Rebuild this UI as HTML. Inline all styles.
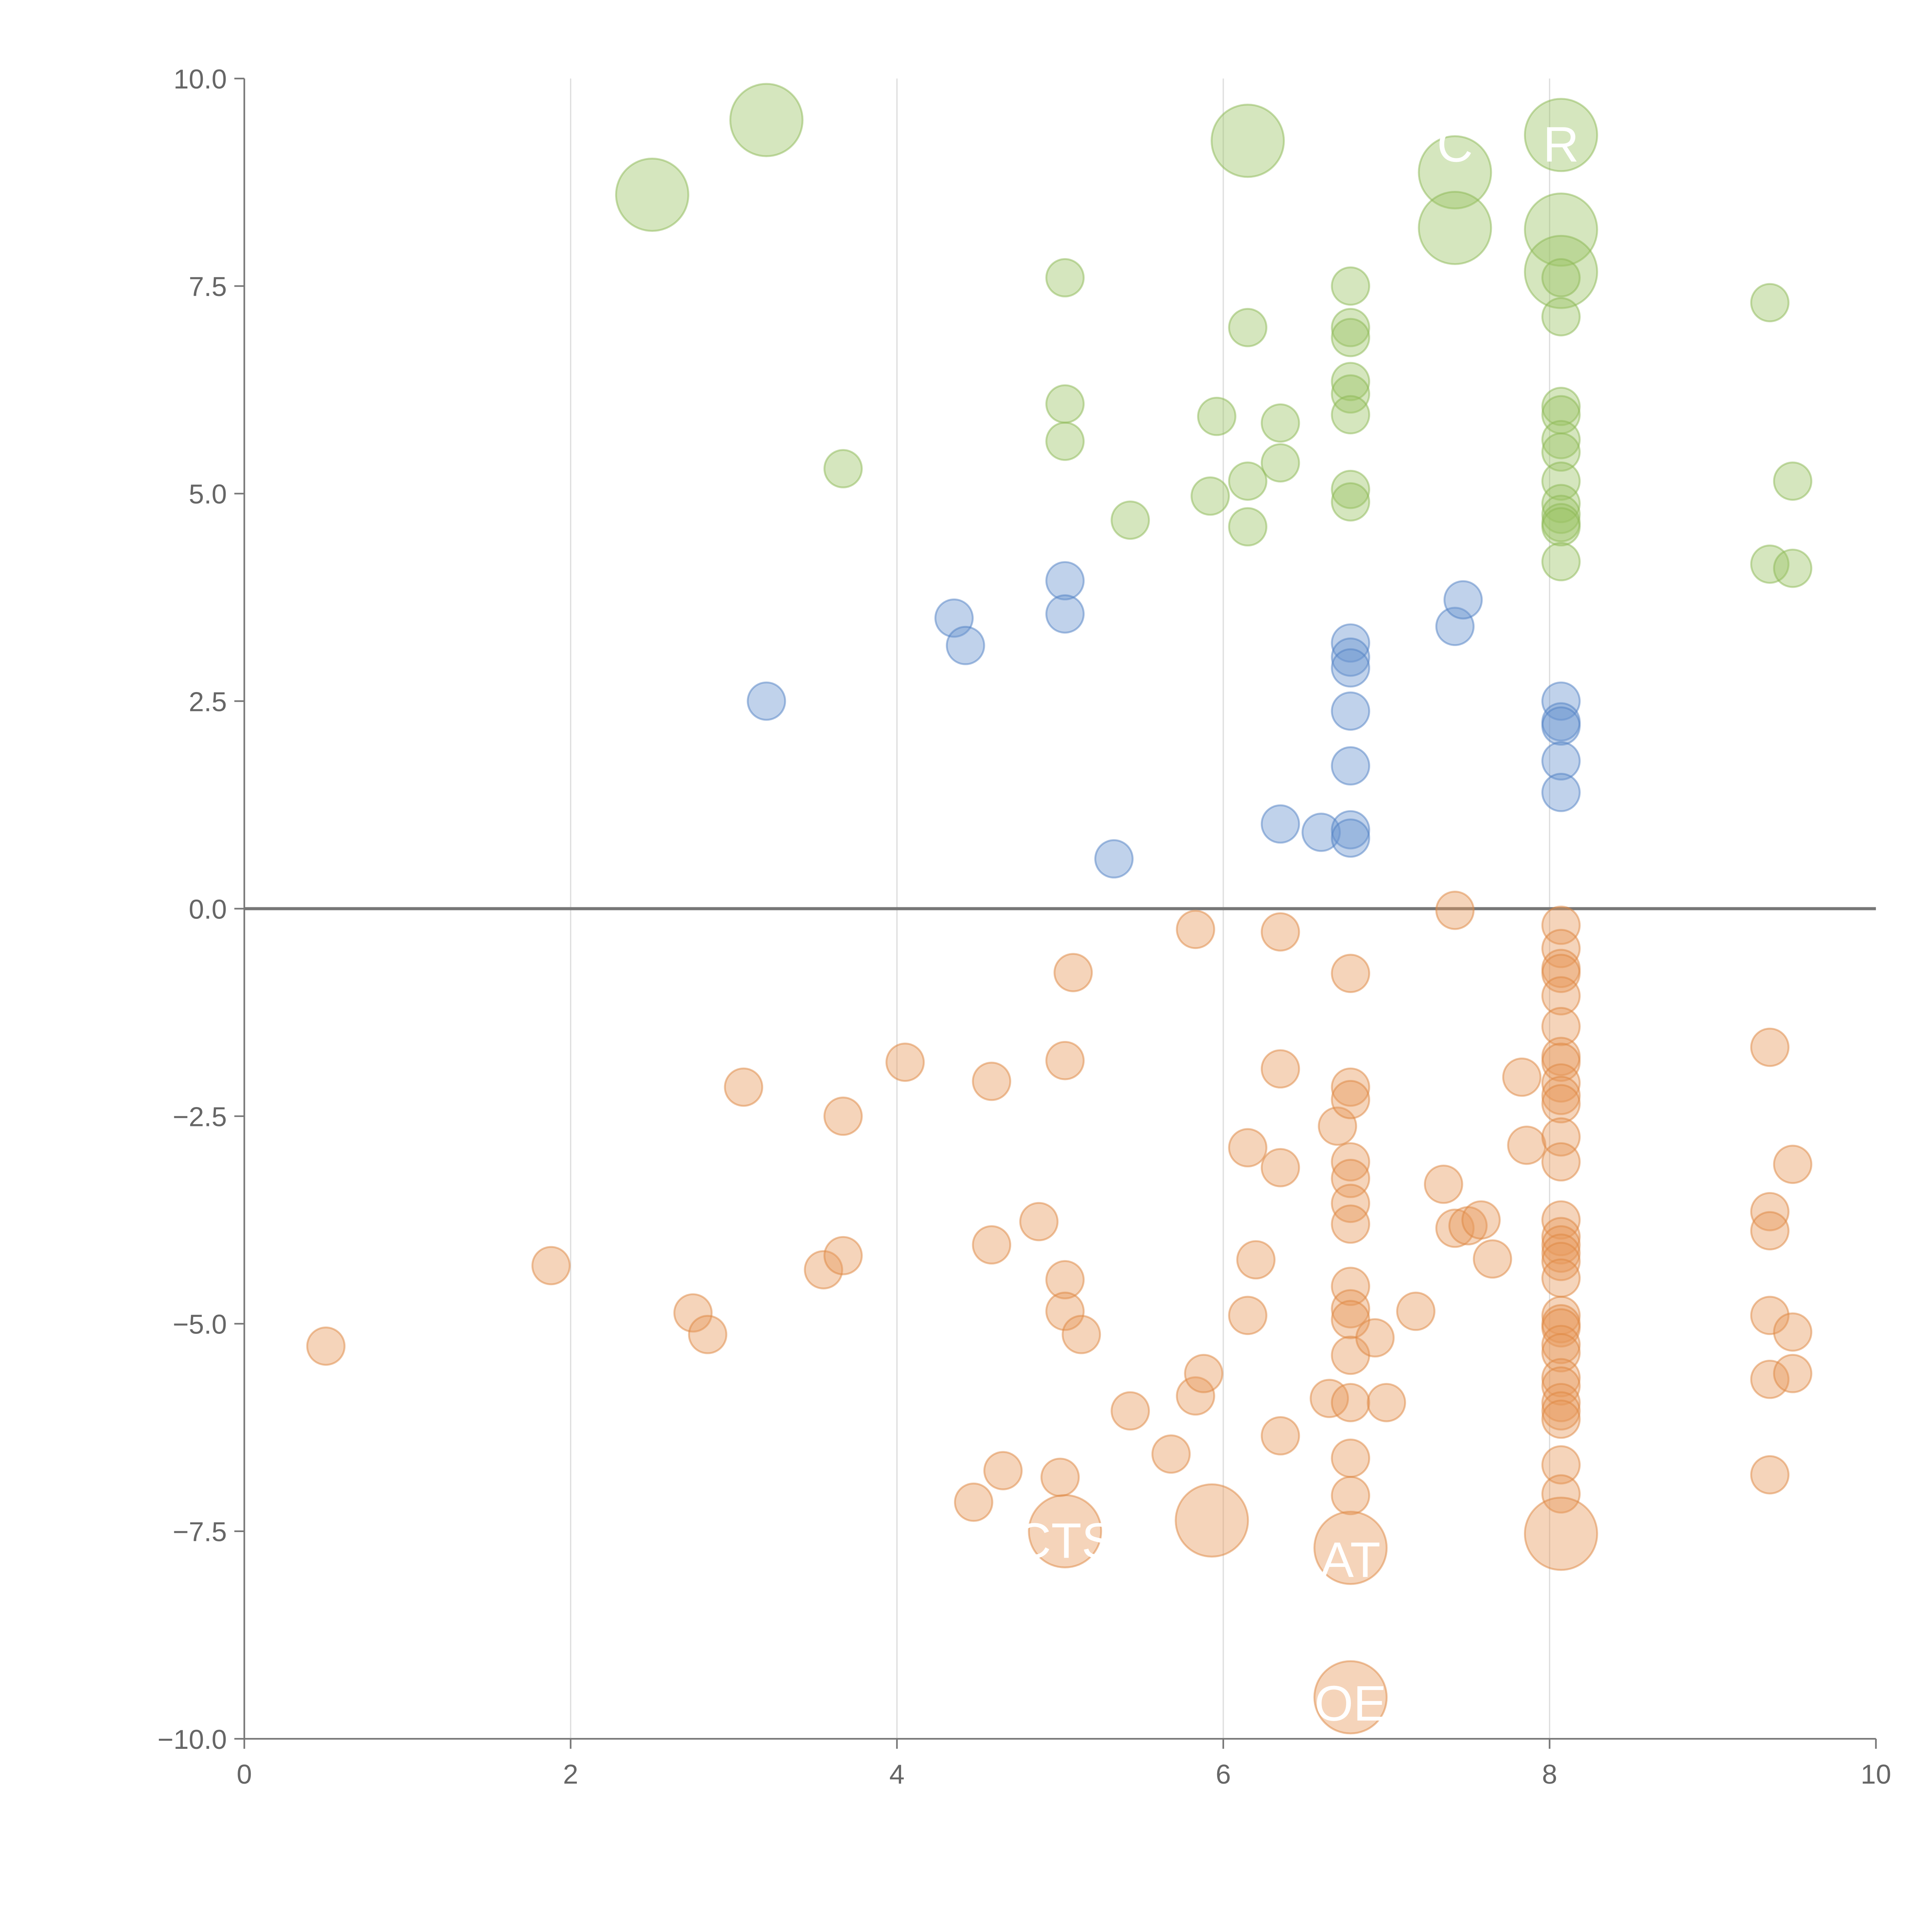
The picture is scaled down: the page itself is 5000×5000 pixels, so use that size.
<!DOCTYPE html>
<html><head><meta charset="utf-8"><style>
html,body{margin:0;padding:0;background:#fff;}
svg{display:block;}
text{font-family:"Liberation Sans",sans-serif;}
</style></head><body>
<svg id="chart" width="5000" height="5000" viewBox="0 0 1550 1550" xmlns="http://www.w3.org/2000/svg">
<g id="grid"></g>
<g id="axes"></g>
<g id="marks"></g>
<g id="labels"></g>
</svg>
<script>
const xTicks=[0,2,4,6,8,10];
const yTicks=[-10,-7.5,-5,-2.5,0,2.5,5,7.5,10];
const greenLarge=[[2.5,8.6],[3.2,9.5],[6.15,9.25],[7.42,8.87],[7.42,8.2],[8.07,9.32],[8.07,8.18],[8.07,7.67]];
const greenSmall=[[5.03,7.6],[6.15,7.0],[6.78,7.5],[6.78,7.0],[6.78,6.88],[9.35,7.3],[8.07,7.6],[8.07,7.13],[5.03,6.08],[5.03,5.63],[5.96,5.93],[6.35,5.85],[6.35,5.37],[6.78,6.35],[6.78,6.2],[6.78,5.95],[3.67,5.3],[6.15,5.15],[5.92,4.97],[5.43,4.68],[6.15,4.6],[6.78,5.05],[6.78,4.9],[8.07,6.05],[8.07,5.95],[8.07,5.65],[8.07,5.5],[8.07,5.15],[8.07,4.88],[8.07,4.75],[8.07,4.65],[8.07,4.6],[8.07,4.18],[9.49,5.15],[9.35,4.15],[9.49,4.1]];
const blueSmall=[[3.2,2.5],[4.35,3.5],[4.42,3.17],[5.03,3.95],[5.03,3.55],[5.33,0.6],[6.35,1.02],[6.6,0.92],[6.78,0.95],[6.78,0.85],[6.78,3.2],[6.78,3.03],[6.78,2.9],[6.78,2.38],[6.78,1.72],[7.42,3.4],[7.47,3.72],[8.07,2.5],[8.07,2.25],[8.07,2.2],[8.07,1.78],[8.07,1.4]];
const orangeSmall=[[0.5,-5.27],[1.88,-4.3],[2.75,-4.87],[2.84,-5.13],[3.06,-2.15],[3.55,-4.35],[3.67,-4.18],[3.67,-2.5],[4.05,-1.85],[4.58,-2.08],[4.58,-4.05],[4.47,-7.15],[4.65,-6.77],[4.87,-3.77],[5.03,-1.83],[5.08,-0.77],[5.03,-4.47],[5.03,-4.85],[5.13,-5.13],[5.0,-6.85],[5.43,-6.05],[5.68,-6.57],[5.83,-5.87],[5.88,-5.6],[5.83,-0.25],[6.35,-0.28],[6.35,-1.93],[6.15,-2.88],[6.35,-3.12],[6.2,-4.23],[6.15,-4.9],[6.35,-6.35],[6.7,-2.62],[6.78,-0.78],[6.78,-2.15],[6.78,-2.3],[6.78,-3.05],[6.78,-3.25],[6.78,-3.55],[6.78,-3.8],[6.78,-4.55],[6.78,-4.82],[6.78,-4.95],[6.78,-5.38],[6.93,-5.17],[6.65,-5.9],[6.78,-5.95],[7.0,-5.95],[6.78,-6.62],[6.78,-7.07],[7.18,-4.85],[7.35,-3.32],[7.42,-3.85],[7.5,-3.82],[7.58,-3.75],[7.65,-4.22],[7.42,-0.02],[7.83,-2.03],[7.86,-2.85],[8.07,-0.2],[8.07,-0.48],[8.07,-0.72],[8.07,-0.78],[8.07,-1.05],[8.07,-1.42],[8.07,-1.78],[8.07,-1.85],[8.07,-2.1],[8.07,-2.25],[8.07,-2.35],[8.07,-2.75],[8.07,-3.05],[8.07,-3.75],[8.07,-3.95],[8.07,-4.05],[8.07,-4.15],[8.07,-4.25],[8.07,-4.45],[8.07,-4.9],[8.07,-5.0],[8.07,-5.05],[8.07,-5.25],[8.07,-5.35],[8.07,-5.65],[8.07,-5.75],[8.07,-5.95],[8.07,-6.05],[8.07,-6.15],[8.07,-6.7],[8.07,-7.05],[9.35,-1.67],[9.35,-3.65],[9.35,-3.88],[9.35,-4.9],[9.35,-5.67],[9.35,-6.82],[9.49,-3.08],[9.49,-5.1],[9.49,-5.6]];
const orangeLarge=[[5.03,-7.5],[5.93,-7.37],[6.78,-7.7],[8.07,-7.53],[6.78,-9.5]];
const textLabels=[["C",7.42,9.0],["R",8.07,9.0],["CTS",5.03,-7.82],["AT",6.78,-8.05],["OE",6.78,-9.78]];

const NS="http://www.w3.org/2000/svg";
const X0=196,X1=1505,Y0=1395,Y1=63;
function sx(v){return X0+(v-0)/10*(X1-X0);}
function sy(v){return Y0-(v+10)/20*(Y0-Y1);}
function mk(tag,attrs,parent){const e=document.createElementNS(NS,tag);for(const k in attrs)e.setAttribute(k,attrs[k]);parent.appendChild(e);return e;}
const grid=document.getElementById('grid'),axes=document.getElementById('axes'),marks=document.getElementById('marks'),labels=document.getElementById('labels');
xTicks.forEach(t=>{
  if(t>0&&t<10){const g=mk('line',{x1:sx(t),x2:sx(t),y1:Y1,y2:Y0,stroke:'#dddddd','stroke-width':1},grid);
  
  }
  const tk=mk('line',{x1:sx(t),x2:sx(t),y1:Y0,y2:Y0+8,stroke:'#777','stroke-width':1.3},axes);
  
  
  const tx=mk('text',{x:sx(t),y:Y0+36,'text-anchor':'middle','font-size':22,fill:'#666'},axes);
  tx.textContent=String(t);
  
  
});
yTicks.forEach(t=>{
  const tk=mk('line',{x1:X0-8,x2:X0,y1:sy(t),y2:sy(t),stroke:'#777','stroke-width':1.3},axes);
  
  
  const tx=mk('text',{x:X0-14,y:sy(t)+8,'text-anchor':'end','font-size':22,fill:'#666'},axes);
  tx.textContent=(t<0?'\u2212':'')+Math.abs(t).toFixed(1);
  
  
});
const ya=mk('line',{x1:X0,x2:X0,y1:Y1,y2:Y0,stroke:'#777','stroke-width':1.3},axes);


const xa=mk('line',{x1:X0,x2:X1,y1:Y0,y2:Y0,stroke:'#777','stroke-width':1.3},axes);


const zl=mk('line',{x1:X0,x2:X1,y1:sy(0),y2:sy(0),stroke:'#777','stroke-width':2.5},axes);


function drawSeries(arr,r,fill,stroke,name){
  arr.forEach(p=>{
    const c=mk('circle',{cx:sx(p[0]),cy:sy(p[1]),r:r,fill:fill,'fill-opacity':0.42,stroke:stroke,'stroke-opacity':0.5,'stroke-width':1.5},marks);
    
    
  });
}
drawSeries(greenLarge,29,'#9cc464','#8cb854','bubble-green-large');
drawSeries(greenSmall,15,'#9cc464','#8cb854','bubble-green');
drawSeries(blueSmall,15,'#6a93cf','#4f7fc4','bubble-blue');
drawSeries(orangeSmall,15,'#e8995a','#dd8540','bubble-orange');
drawSeries(orangeLarge,29,'#e8995a','#dd8540','bubble-orange-large');
textLabels.forEach(l=>{
  const t=mk('text',{x:sx(l[1]),y:sy(l[2]),'text-anchor':'middle','font-size':40,fill:'#fff'},labels);
  t.textContent=l[0];
  
  
});
</script>
</body></html>
